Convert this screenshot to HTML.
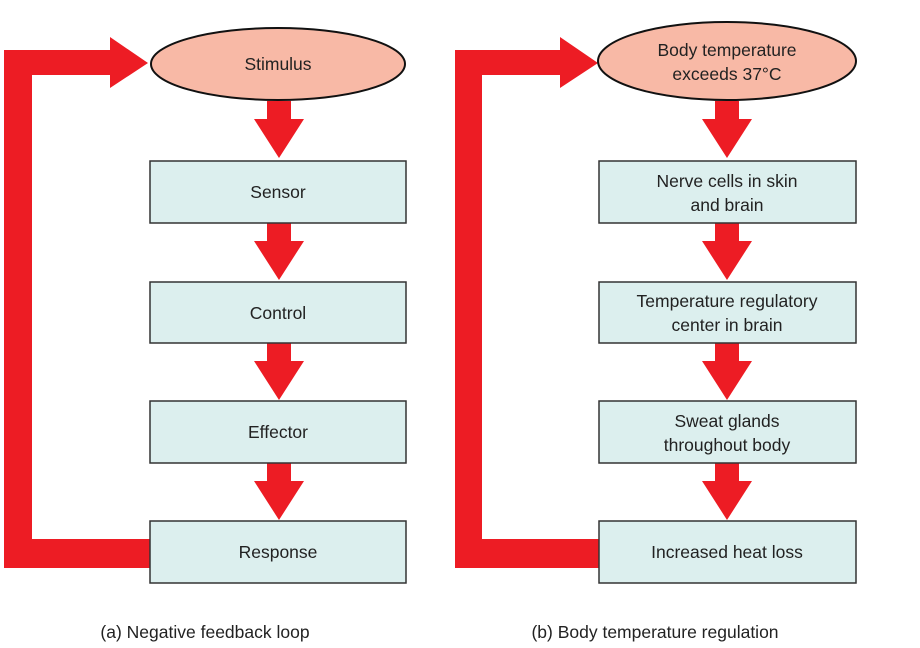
<!DOCTYPE html>
<html><head><style>
body{margin:0;background:#fff;}
svg{display:block;}
text{font-family:"Liberation Sans",Arial,sans-serif;font-size:17.5px;fill:#222;text-anchor:middle;}
</style></head><body>
<svg width="920" height="648" viewBox="0 0 920 648">
<defs>
<g id="dn"><polygon points="-12,0 12,0 12,18 25,18 0,57 -25,18 -12,18" fill="#ed1c24"/></g>
</defs>
<!-- left loop -->
<polygon points="4,568 150,568 150,539 32,539 32,75 110,75 110,88 148,63 110,37 110,50 4,50" fill="#ed1c24"/>
<ellipse cx="278" cy="64" rx="127" ry="36" fill="#f8b9a6" stroke="#111" stroke-width="2"/>
<text x="278" y="70">Stimulus</text>
<use href="#dn" x="279" y="101"/>
<use href="#dn" x="279" y="223"/>
<use href="#dn" x="279" y="343"/>
<use href="#dn" x="279" y="463"/>
<g fill="#dcefee" stroke="#333" stroke-width="1.5">
<rect x="150" y="161" width="256" height="62"/>
<rect x="150" y="282" width="256" height="61"/>
<rect x="150" y="401" width="256" height="62"/>
<rect x="150" y="521" width="256" height="62"/>
</g>
<text x="278" y="198">Sensor</text>
<text x="278" y="319">Control</text>
<text x="278" y="438">Effector</text>
<text x="278" y="558">Response</text>
<!-- right loop -->
<polygon points="455,568 600,568 600,539 482,539 482,75 560,75 560,88 598,63 560,37 560,50 455,50" fill="#ed1c24"/>
<ellipse cx="727" cy="61" rx="129" ry="39" fill="#f8b9a6" stroke="#111" stroke-width="2"/>
<text x="727" y="56">Body temperature</text>
<text x="727" y="80">exceeds 37°C</text>
<use href="#dn" x="727" y="101"/>
<use href="#dn" x="727" y="223"/>
<use href="#dn" x="727" y="343"/>
<use href="#dn" x="727" y="463"/>
<g fill="#dcefee" stroke="#333" stroke-width="1.5">
<rect x="599" y="161" width="257" height="62"/>
<rect x="599" y="282" width="257" height="61"/>
<rect x="599" y="401" width="257" height="62"/>
<rect x="599" y="521" width="257" height="62"/>
</g>
<text x="727" y="187">Nerve cells in skin</text>
<text x="727" y="211">and brain</text>
<text x="727" y="307">Temperature regulatory</text>
<text x="727" y="331">center in brain</text>
<text x="727" y="427">Sweat glands</text>
<text x="727" y="451">throughout body</text>
<text x="727" y="558">Increased heat loss</text>
<text x="205" y="638">(a) Negative feedback loop</text>
<text x="655" y="638">(b) Body temperature regulation</text>
</svg>
</body></html>
